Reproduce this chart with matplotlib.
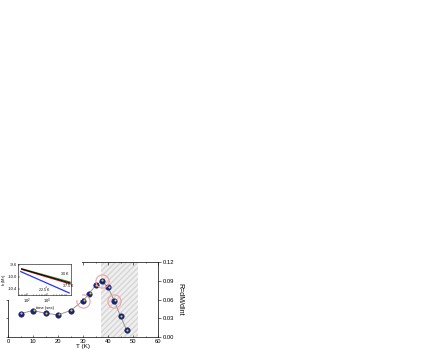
import matplotlib
matplotlib.use("Agg")
import matplotlib.pyplot as plt
from matplotlib.patches import Rectangle
import numpy as np

plt.rcParams['font.family'] = ['Liberation Sans', 'DejaVu Sans']

# main data
T = [5, 10, 15, 20, 25, 30, 32.5, 35, 37.5, 40, 42.5, 45, 47.5]
R = [0.0375, 0.0423, 0.038, 0.0354, 0.0423, 0.0579, 0.0696, 0.0825, 0.0895, 0.0793, 0.0579, 0.0332, 0.0107]
circled_T = [30, 37.5, 42.5]
circled_R = [0.0579, 0.0895, 0.0579]
band = [37, 52]
xticks = [0, 10, 20, 30, 40, 50, 60]
yticks = [0.00, 0.03, 0.06, 0.09, 0.12]

# inset data
t_black = [10**1.75, 10**4.17]
m_black = [-9.733, -10.20]
t_red = [10**1.75, 10**4.17]
m_red = [-9.745, -10.23]
t_green = [10**1.75, 10**4.17]
m_green = [-9.725, -10.17]
t_blue = [10**1.70, 10**4.12]
m_blue = [-9.82, -10.53]

W, H = 442, 350
fig = plt.figure(figsize=(W/100, H/100), dpi=100)

def fx(px): return px / W
def fy(py): return 1 - py / H

ax = fig.add_axes([fx(8), fy(337), fx(158) - fx(8), fy(262) - fy(337)])
ax.axvspan(band[0], band[1], facecolor='#efefef', edgecolor='#d6d6d6', hatch='//////', linewidth=0, zorder=0)
ax.plot(T, R, color='#8a8a8a', lw=0.6, zorder=2)
ax.plot(T, R, 'o', color='#1a237e', ms=4.0, mec='#0d1560', mew=0.3, zorder=3)
ax.plot(np.array(T) + 0.25, np.array(R) + 0.0012, 'o', color='#d9d23a', ms=1.5, mew=0, zorder=4)
ax.plot(circled_T, circled_R, 'o', mfc='none', mec='#f4a0a0', ms=9.5, mew=0.8, zorder=4)
ax.set_xlim(0, 60)
ax.set_ylim(0, 0.12)
ax.set_xticks(xticks)
ax.set_xticks(np.arange(0, 61, 5), minor=True)
ax.set_xticklabels([str(v) for v in xticks], fontsize=4.2)
ax.tick_params(axis='x', which='both', direction='in', top=True, length=1.8, width=0.4, pad=1.2)
ax.tick_params(axis='x', which='minor', length=1.0)
ax.set_yticks(yticks)
ax.tick_params(axis='y', which='both', left=True, labelleft=False, right=True, labelright=True,
               direction='out', length=1.8, width=0.4, labelsize=4.2, pad=1.5)
ax.yaxis.set_ticklabels(['%.2f' % v for v in yticks])
for s in ax.spines.values():
    s.set_linewidth(0.5)
ax.set_xlabel('T (K)', fontsize=4.6, labelpad=0.3)
ax.yaxis.set_label_position('right')
ax.set_ylabel('R=dM/dlnt', fontsize=5, rotation=270, labelpad=7)

# white mask over top-left of main axes
fig.patches.append(Rectangle((0, fy(300)), fx(82), fy(240) - fy(300), transform=fig.transFigure,
                             facecolor='white', edgecolor='none', zorder=1))

ins = fig.add_axes([fx(18.3), fy(295), fx(70.7) - fx(18.3), fy(264) - fy(295)], zorder=2)
ins.plot(t_blue, m_blue, color='#2233ff', lw=0.9)
ins.plot(t_green, m_green, color='#2e8b2e', lw=0.9)
ins.plot(t_red, m_red, color='#cc1111', lw=0.9)
ins.plot(t_black, m_black, color='black', lw=0.7)
ins.set_xscale('log')
ins.set_xlim(10**1.58, 10**4.2)
ins.set_ylim(-10.6, -9.567)
ins.set_xticks([1e2, 1e3])
ins.set_yticks([-9.6, -10.0, -10.4])
ins.set_yticklabels(['-9.6', '-10.0', '-10.4'])
ins.tick_params(labelsize=3, length=1.2, width=0.3, pad=1, direction='in')
ins.tick_params(which='minor', length=0.7, width=0.3, direction='in')
for s in ins.spines.values():
    s.set_linewidth(0.4)
ins.set_xlabel('time (sec)', fontsize=3, labelpad=0.5)
ins.set_ylabel('ln(M$_r$)', fontsize=3)
ins.yaxis.set_label_coords(-0.2, 0.5)
ins.annotate('30 K', xy=(10**3.76, -10.06), xytext=(10**3.7, -9.93), fontsize=2.6,
             arrowprops=dict(arrowstyle='-', lw=0.3, color='black'))
ins.annotate('22.5 K', xy=(10**3.0, -10.32), xytext=(10**2.6, -10.47), fontsize=2.6,
             arrowprops=dict(arrowstyle='-', lw=0.3, color='black'))
ins.annotate('37.5 K', xy=(10**3.95, -10.18), xytext=(10**3.82, -10.34), fontsize=2.6,
             arrowprops=dict(arrowstyle='-', lw=0.3, color='black'))

fig.savefig('out.png', dpi=100)
